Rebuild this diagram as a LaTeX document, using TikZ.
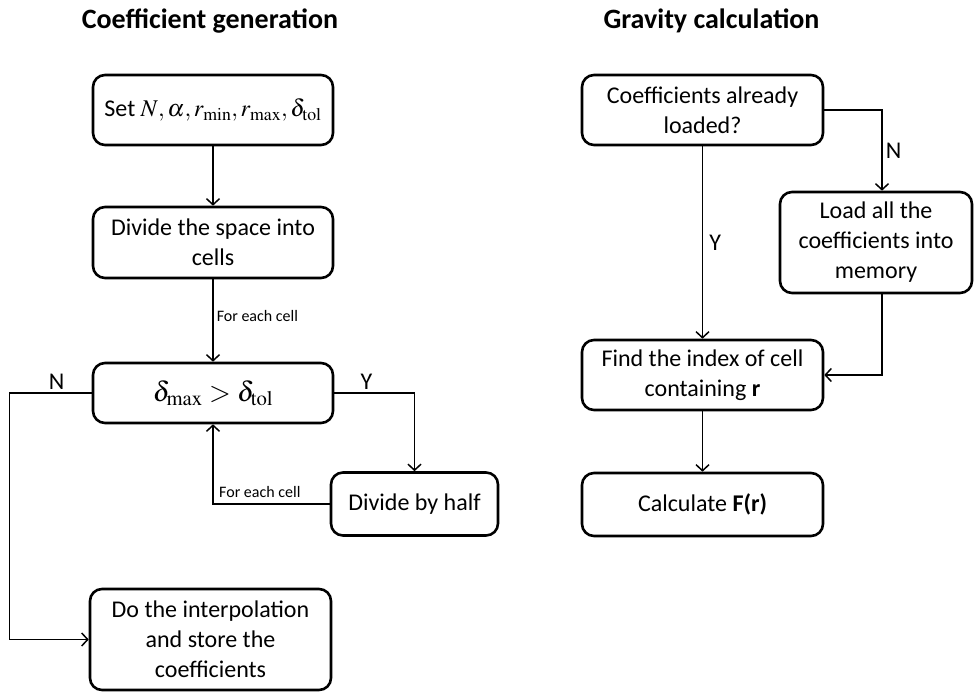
\documentclass[tikz,border=0pt]{standalone}
\usepackage{mathptmx}
\usepackage[no-math]{fontspec}
\setmainfont{Carlito}
\usetikzlibrary{arrows.meta,calc}
\tikzset{
  box/.style={draw, line width=2.6pt, rounded corners=12pt, align=center,
    inner sep=0pt, font=\fontsize{24}{30}\selectfont},
  conn/.style={line width=1.5pt, -{Straight Barb[length=6pt,width=13pt]}},
  lbl/.style={font=\fontsize{24}{28}\selectfont, inner sep=3pt},
  small/.style={font=\fontsize{16}{19}\selectfont, inner sep=3pt},
  ttl/.style={font=\fontsize{28}{32}\selectfont\bfseries},
}
\begin{document}
\begin{tikzpicture}[x=1pt,y=-1pt]
\useasboundingbox (0,0) rectangle (974,692);
% titles
\node[ttl] (t1) at (210,21) {Coefficient generation};
\node[ttl] (t2) at (711.5,21) {Gravity calculation};
% left column
\node[box, minimum width=240pt, minimum height=70pt] (b1) at (213,110)
  {Set $N,\alpha,r_{\min},r_{\max},\delta_{\mathrm{tol}}$};
\node[box, minimum width=240pt, minimum height=71pt] (b2) at (213,242.5)
  {Divide the space into\\cells};
\node[box, minimum width=240pt, minimum height=60pt, font=\fontsize{28}{32}\selectfont] (b3) at (213,393)
  {$\delta_{\max}>\delta_{\mathrm{tol}}$};
\node[box, minimum width=167pt, minimum height=63pt] (b4) at (414.5,504)
  {Divide by half};
\node[box, minimum width=241pt, minimum height=101pt] (b5) at (210.5,639.5)
  {Do the interpolation\\and store the\\coefficients};
% right column
\node[box, minimum width=241pt, minimum height=70pt] (c1) at (702.5,110)
  {Coefficients already\\loaded?};
\node[box, minimum width=192pt, minimum height=101pt] (c2) at (876,242.5)
  {Load all the\\coefficients into\\memory};
\node[box, minimum width=241pt, minimum height=70pt] (c3) at (702.5,375)
  {Find the index of cell\\containing \textbf{r}};
\node[box, minimum width=241pt, minimum height=63pt] (c4) at (702.5,504.5)
  {Calculate \textbf{F(r)}};
% left connectors
\draw[conn] (b1) -- (b2);
\draw[conn] (b2) -- node[small, right, pos=0.45] (fe1) {For each cell} (b3);
\draw[conn] (b3.west) -- ++(-82,0) node[lbl, midway, above, xshift=6pt] (nl) {N} |- (b5.west);
\draw[conn] (b3.east) -| node[lbl, pos=0.2, above] (yl) {Y} (b4.north);
\draw[conn] (b4.west) -| (b3.south);
\node[small, anchor=south west] (fe2) at (216,501) {For each cell};
% right connectors
\draw[conn] (c1.east) -| node[lbl, pos=0.75, right] (nr) {N} ([xshift=6pt]c2.north);
\draw[conn] (c1.south) -- node[lbl, midway, right, xshift=3pt] (yr) {Y} (c3.north);
\draw[conn] ([xshift=6pt]c2.south) |- (c3.east);
\draw[conn] (c3) -- (c4);
\end{tikzpicture}
\end{document}
